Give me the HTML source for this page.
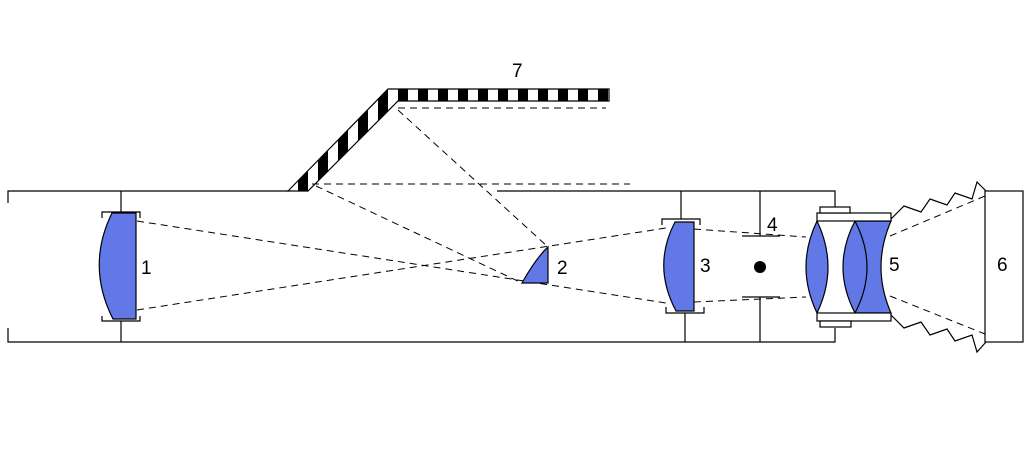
<!DOCTYPE html>
<html><head><style>html,body{margin:0;padding:0;background:#fff}svg{display:block}</style></head><body>
<svg width="1024" height="469" viewBox="0 0 1024 469" xmlns="http://www.w3.org/2000/svg" font-family="Liberation Sans, sans-serif" font-size="19">
<defs>
<pattern id="st" x="398" y="0" width="20" height="20" patternUnits="userSpaceOnUse">
<rect width="10" height="20" fill="#000"/><rect x="10" width="10" height="20" fill="#fff"/>
</pattern>
</defs>
<g stroke="#000" stroke-width="1.2" fill="none">
<path d="M8,203 V191 H289 M497,191 H835 V214 M835,328 V342 H8 V328"/>
<path d="M121,191 V212 M121,321 V342 M102,218 V212 H140 V218 M102,316 V321 H140 V316"/>
<path d="M681,191 V219 M685,313 V342 M662,225 V219 H700 V225 M666,307 V313 H704 V307"/>
<path d="M760,191 V236 M742,236 H780 M742,297 H780 M760,297 V342"/>
<path d="M891,219 L904,206 L921,212 L930,199 L947,205 L955,193 L972,199 L977,182 L986,191"/>
<path d="M891,315 L904,328 L921,322 L930,335 L947,329 L955,341 L972,335 L977,352 L986,342"/>
</g>
<path d="M288,191 L388,89 L609,89 L609,101 L398,101 L308,191 Z" fill="url(#st)" stroke="#000" stroke-width="1.2"/>
<g stroke="#000" stroke-width="1" stroke-dasharray="7,5" fill="none">
<path d="M398,108 H606"/>
<path d="M312,184 H630"/>
<path d="M398,110 L548,247"/>
<path d="M316,186 L522,283"/>
<path d="M137,221 L666,303"/>
<path d="M137,310 L666,228"/>
<path d="M694,229 L806,237"/>
<path d="M694,302 L806,297"/>
<path d="M890,236 L985,196"/>
<path d="M890,296 L985,334"/>
</g>
<g fill="#6178e6" stroke="#000" stroke-width="1.2">
<path d="M112,213 H136 V319 H113 Q86,266 112,213 Z"/>
<path d="M548,247 V283 H522 Q536,258 548,247 Z"/>
<path d="M675,222 H694 V311 H676 Q652,266 675,222 Z"/>
<path d="M817,221 Q795,267 817,313 Q839,267 817,221 Z"/>
<path d="M855,221 H891 Q871,267 891,313 H855 Q831,267 855,221 Z"/>
<path d="M855,221 Q879,267 855,313" fill="none"/>
</g>
<g fill="#fff" stroke="#000" stroke-width="1.2">
<rect x="817" y="213" width="74" height="8"/>
<rect x="820" y="207" width="30" height="6"/>
<rect x="817" y="313" width="74" height="8"/>
<rect x="820" y="321" width="31" height="6"/>
<rect x="985" y="191" width="38" height="151"/>
</g>
<circle cx="760" cy="267" r="6" fill="#000"/>
<g fill="#000">
<text x="141" y="274">1</text>
<text x="557" y="274">2</text>
<text x="700" y="272">3</text>
<text x="767" y="231">4</text>
<text x="889" y="271">5</text>
<text x="997" y="271">6</text>
<text x="512" y="77">7</text>
</g>
</svg>
</body></html>
